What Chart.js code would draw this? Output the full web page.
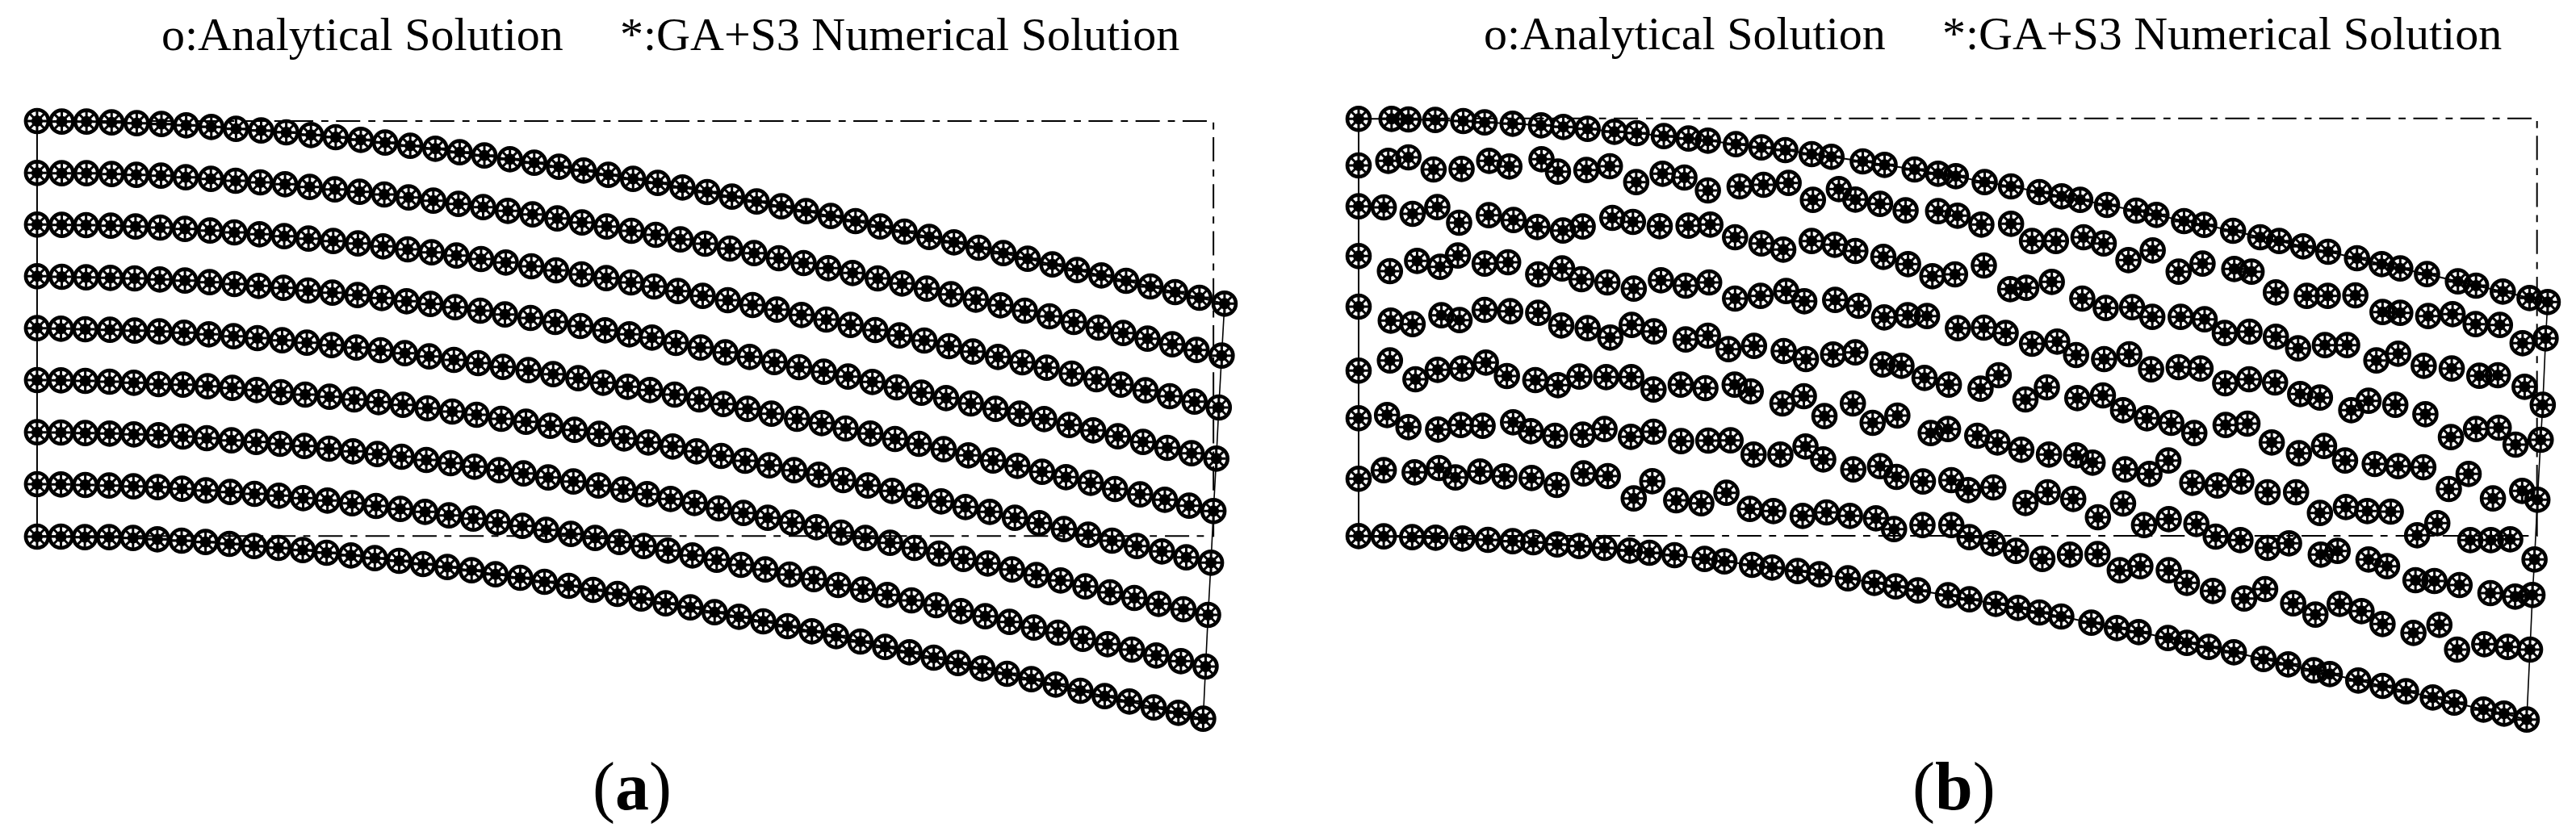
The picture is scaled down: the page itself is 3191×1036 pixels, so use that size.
<!DOCTYPE html>
<html>
<head>
<meta charset="utf-8">
<title>Analytical and GA+S3 numerical solution</title>
<script src="https://cdn.jsdelivr.net/npm/chart.js@4/dist/chart.umd.min.js"></script>
<style>
    html, body { margin: 0; padding: 0; background: #fff; }
    body { position: relative; width: 3191px; height: 1036px; overflow: hidden; }
    canvas { position: absolute; top: 0; }
    #grapikA { left: 0; }
    #grapikB { left: 1596px; }
    .legend, .tag { position: absolute; font-family: "Liberation Serif", serif; color: #000; white-space: pre; }
    .legend { font-size: 58px; line-height: 58px; }
    .tag { font-size: 84px; line-height: 84px; top: 933px; }
</style>
</head>
<body>
<canvas id="grapikA" width="1596" height="1036"></canvas>
<canvas id="grapikB" width="1595" height="1036"></canvas>
<div class="legend" style="left:200px;top:14px">o:Analytical Solution</div>
<div class="legend" style="left:768px;top:14px">*:GA+S3 Numerical Solution</div>
<div class="legend" style="left:1838px;top:13px">o:Analytical Solution</div>
<div class="legend" style="left:2406px;top:13px">*:GA+S3 Numerical Solution</div>
<div class="tag" style="left:734px">(<b>a</b>)</div>
<div class="tag" style="left:2369px">(<b>b</b>)</div>
<script>
// panel (a), nine rows of nodes
var a1X = [0,60,120,181,242,302,362,423,483,544,605,665,725,786,845,906,967,1026,1086,1148,1207,1267,1327,1387,1447,1507,1567,1627,1687,1747,1807,1867,1927,1987,2047,2106,2166,2226,2286,2346,2405,2465,2525,2584,2644,2703,2763,2822,2883];
var a1Y = [0,2,2,5,8,11,16,22,29,35,42,52,60,70,80,92,103,116,128,142,155,170,184,200,215,230,247,264,281,299,317,335,353,372,392,411,431,451,471,491,512,533,554,574,594,615,636,657,679];
var a2X = [0,60,120,181,241,301,361,422,482,542,602,662,723,783,843,902,962,1023,1083,1143,1203,1263,1323,1383,1443,1502,1562,1622,1682,1741,1801,1861,1921,1980,2041,2100,2160,2219,2279,2339,2398,2458,2517,2577,2637,2696,2756,2815,2876];
var a2Y = [193,194,194,197,200,203,209,215,222,228,235,245,254,263,273,284,296,308,320,334,347,362,377,392,408,423,440,456,474,491,510,528,547,565,585,604,623,644,664,685,705,726,747,768,788,809,830,851,872];
var a3X = [0,60,119,179,239,299,359,420,479,540,600,659,719,779,840,900,958,1018,1078,1138,1200,1260,1322,1382,1442,1498,1556,1616,1677,1737,1796,1856,1916,1975,2035,2094,2154,2214,2272,2333,2392,2451,2512,2572,2631,2691,2750,2810,2869];
var a3Y = [385,386,387,389,392,396,401,407,414,421,428,437,446,455,466,477,488,500,513,526,540,555,570,584,600,615,632,650,666,684,701,721,738,758,777,797,816,837,857,877,897,917,939,960,980,1001,1023,1043,1065];
var a4X = [0,60,119,178,237,298,359,419,479,538,598,658,717,778,837,897,955,1015,1076,1136,1198,1258,1319,1379,1438,1493,1551,1611,1671,1730,1790,1850,1910,1969,2028,2087,2147,2207,2267,2327,2386,2445,2506,2564,2624,2685,2744,2803,2863];
var a4Y = [577,579,581,583,585,589,593,599,606,613,620,630,638,647,658,670,680,692,705,719,732,747,762,778,793,805,825,842,860,877,896,915,932,950,970,990,1010,1030,1050,1070,1088,1108,1130,1150,1172,1193,1215,1235,1255];
var a5X = [0,58,117,177,237,297,357,417,477,535,595,655,715,775,834,893,952,1012,1071,1131,1193,1253,1314,1374,1434,1488,1548,1608,1666,1725,1783,1845,1905,1963,2023,2083,2141,2201,2261,2321,2380,2440,2498,2558,2617,2678,2738,2797,2856];
var a5Y = [770,772,774,776,779,782,787,793,800,807,815,824,833,842,852,863,875,888,900,914,926,941,956,973,988,1000,1017,1035,1052,1070,1088,1107,1123,1143,1162,1182,1200,1220,1243,1262,1282,1304,1324,1345,1368,1388,1408,1430,1450];
var a6X = [0,58,117,176,235,295,354,414,474,533,592,651,710,770,829,888,948,1008,1067,1127,1187,1246,1305,1365,1425,1484,1543,1601,1661,1719,1778,1838,1898,1957,2017,2076,2135,2195,2254,2313,2374,2433,2493,2552,2610,2670,2731,2790,2850];
var a6Y = [963,964,966,969,973,978,980,986,992,1000,1008,1017,1025,1035,1045,1055,1068,1080,1092,1107,1118,1133,1148,1163,1180,1195,1210,1228,1245,1263,1280,1298,1315,1335,1355,1375,1394,1414,1435,1453,1475,1495,1517,1538,1560,1580,1600,1622,1642];
var a7X = [0,58,117,176,235,295,354,412,472,532,590,649,709,767,826,885,945,1004,1062,1122,1181,1241,1302,1363,1423,1481,1538,1596,1655,1715,1774,1833,1892,1952,2011,2071,2130,2190,2249,2308,2367,2426,2485,2545,2605,2664,2723,2783,2843];
var a7Y = [1157,1158,1160,1162,1165,1168,1173,1179,1187,1193,1200,1208,1218,1228,1238,1248,1260,1272,1285,1298,1310,1325,1340,1355,1370,1387,1405,1420,1440,1457,1475,1493,1510,1530,1550,1568,1587,1608,1628,1645,1667,1688,1708,1730,1752,1773,1795,1815,1836];
var a8X = [0,58,117,175,234,293,352,410,469,528,587,646,705,765,823,882,942,1000,1059,1118,1178,1236,1296,1355,1414,1473,1532,1591,1650,1709,1768,1827,1886,1945,2005,2064,2123,2183,2243,2302,2361,2420,2479,2539,2599,2658,2717,2777,2837];
var a8Y = [1350,1351,1353,1355,1358,1361,1367,1373,1379,1386,1393,1402,1411,1421,1431,1442,1453,1466,1478,1492,1505,1520,1535,1550,1565,1580,1597,1615,1631,1650,1667,1686,1703,1725,1742,1762,1782,1800,1822,1841,1862,1883,1902,1925,1945,1965,1987,2008,2028];
var a9X = [0,58,116,175,233,292,351,409,467,527,586,645,703,762,820,879,937,996,1055,1113,1173,1232,1291,1350,1409,1467,1526,1586,1645,1704,1763,1822,1881,1940,1999,2059,2118,2177,2236,2295,2355,2414,2473,2533,2592,2652,2711,2771,2831];
var a9Y = [1545,1545,1547,1547,1550,1555,1560,1565,1572,1580,1587,1595,1605,1615,1625,1635,1647,1658,1670,1685,1698,1713,1728,1743,1758,1775,1793,1808,1826,1843,1860,1878,1897,1915,1935,1955,1975,1995,2015,2035,2055,2075,2095,2118,2138,2158,2180,2200,2222];

// panel (b), same nine rows from the GA+S3 run
var b1X = [0,80,121,186,254,306,374,443,497,556,621,675,741,801,848,916,978,1036,1100,1148,1224,1277,1350,1407,1450,1520,1584,1653,1707,1752,1817,1888,1937,2004,2053,2123,2189,2235,2293,2354,2424,2484,2529,2594,2669,2713,2778,2843,2887];
var b1Y = [2,2,4,6,10,15,20,26,32,39,50,55,66,75,83,96,108,118,133,143,160,173,190,206,215,237,253,274,290,303,322,343,359,382,396,418,442,456,476,496,520,542,558,579,606,622,644,668,683];
var b2X = [0,72,121,182,250,317,366,444,484,553,610,674,738,791,848,925,983,1044,1103,1166,1206,1266,1328,1407,1454,1512,1584,1635,1693,1760,1809,1869,1928,1991,2049,2126,2168,2227,2302,2353,2420,2486,2529,2597,2656,2712,2771,2826,2882];
var b2Y = [175,158,145,190,188,158,179,152,198,192,178,237,206,220,268,253,247,240,303,263,302,318,342,345,362,395,392,456,456,442,465,527,491,570,540,560,570,647,660,660,658,720,723,735,728,765,768,836,818];
var b3X = [0,61,131,191,244,316,376,434,496,544,616,666,731,801,854,914,978,1031,1100,1156,1206,1274,1334,1393,1448,1518,1582,1621,1683,1757,1814,1878,1927,1996,2054,2103,2163,2227,2281,2346,2400,2471,2524,2586,2654,2721,2766,2831,2875];
var b3Y = [327,331,355,330,388,360,378,404,417,402,370,385,401,399,395,442,465,488,456,470,493,515,542,587,580,547,635,630,608,670,705,702,738,738,747,798,793,812,855,843,843,900,875,920,930,957,955,998,1065];
var b4X = [0,76,142,198,241,306,363,436,494,541,604,668,734,794,851,914,976,1038,1082,1157,1214,1276,1333,1380,1455,1518,1571,1635,1696,1742,1810,1871,1924,1991,2044,2104,2162,2225,2286,2334,2410,2452,2517,2590,2652,2713,2768,2809,2870];
var b4Y = [512,568,530,552,510,540,535,580,558,598,610,633,602,622,610,670,660,642,680,675,697,740,732,735,780,778,798,838,830,880,895,877,933,925,930,985,970,982,1025,1038,1085,1050,1065,1100,1185,1155,1150,1213,1195];
var b5X = [0,78,131,201,245,306,368,436,492,556,611,663,717,794,848,898,960,1032,1086,1152,1206,1272,1318,1374,1433,1510,1554,1619,1671,1745,1807,1856,1914,1973,2029,2105,2158,2217,2283,2344,2395,2467,2524,2585,2647,2695,2754,2825,2862];
var b5Y = [700,752,765,732,750,712,717,723,770,780,815,768,792,822,808,858,846,865,895,878,870,915,920,965,990,1005,955,1045,1000,1040,1030,1085,1115,1132,1170,1140,1135,1205,1245,1218,1272,1285,1293,1297,1378,1322,1413,1385,1418];
var b6X = [0,76,138,192,251,309,360,429,484,536,601,662,716,782,842,913,952,1029,1081,1131,1200,1248,1308,1389,1431,1502,1551,1609,1676,1742,1782,1861,1920,1966,2024,2085,2143,2207,2276,2334,2397,2449,2506,2570,2619,2699,2749,2796,2855];
var b6Y = [938,900,970,935,930,908,958,973,992,960,962,962,1008,990,1003,990,1015,1060,1033,1107,1060,1132,1105,1170,1155,1180,1205,1232,1250,1253,1280,1305,1322,1272,1355,1365,1350,1390,1390,1467,1445,1460,1462,1550,1505,1568,1568,1565,1640];
var b7X = [0,69,121,193,248,301,375,418,477,544,597,661,716,783,849,903,959,1024,1085,1128,1201,1266,1306,1370,1439,1480,1541,1619,1673,1735,1795,1856,1907,1967,2034,2081,2141,2207,2259,2336,2377,2452,2497,2566,2612,2673,2748,2808,2850];
var b7Y = [1115,1103,1148,1157,1140,1143,1130,1163,1180,1176,1155,1184,1165,1200,1198,1197,1250,1250,1220,1268,1305,1293,1333,1350,1345,1382,1372,1430,1390,1415,1483,1432,1512,1490,1508,1555,1568,1597,1580,1622,1608,1640,1665,1717,1720,1735,1765,1778,1772];
var b8X = [0,61,136,195,235,295,354,420,481,546,605,668,713,771,832,893,950,1007,1078,1136,1193,1256,1300,1369,1439,1483,1540,1596,1660,1727,1794,1848,1898,1967,2011,2074,2150,2201,2269,2323,2382,2435,2486,2561,2624,2667,2733,2790,2844];
var b8Y = [1340,1308,1316,1300,1335,1313,1331,1337,1363,1320,1330,1413,1349,1420,1431,1392,1452,1460,1478,1465,1478,1487,1527,1512,1512,1557,1580,1608,1638,1622,1620,1680,1665,1680,1727,1757,1785,1750,1803,1845,1805,1832,1880,1913,1883,1975,1955,1965,1975];
var b9X = [0,61,130,187,252,314,374,424,482,536,597,658,706,767,840,888,955,1004,1066,1119,1188,1252,1304,1358,1431,1483,1547,1601,1653,1706,1779,1841,1894,1965,2011,2064,2125,2197,2257,2319,2358,2427,2486,2543,2608,2660,2731,2781,2836];
var b9Y = [1553,1554,1557,1559,1562,1567,1572,1576,1584,1590,1597,1607,1615,1624,1638,1647,1660,1670,1683,1695,1710,1727,1740,1755,1773,1788,1805,1820,1837,1852,1875,1895,1910,1932,1950,1965,1985,2010,2030,2052,2066,2090,2110,2130,2153,2172,2198,2213,2235];

// undeformed outline
var frameAX = [0, 2856, 2856, 0];
var frameAY = [0, 0, 1543, 1543];
var frameBX = [0, 2861, 2861, 0];
var frameBY = [0, 0, 1552, 1552];

var rowsA = [[a1X, a1Y], [a2X, a2Y], [a3X, a3Y], [a4X, a4Y], [a5X, a5Y], [a6X, a6Y], [a7X, a7Y], [a8X, a8Y], [a9X, a9Y]];
var rowsB = [[b1X, b1Y], [b2X, b2Y], [b3X, b3Y], [b4X, b4Y], [b5X, b5Y], [b6X, b6Y], [b7X, b7Y], [b8X, b8Y], [b9X, b9Y]];

function toPoints(xs, ys) {
    return xs.map(function (x, i) {
        return { x: x, y: ys[i] };
    });
}

function solidLine(points, width) {
    return { data: points, showLine: true, borderColor: '#000', borderWidth: width, pointRadius: 0, tension: 0 };
}

function drawPanel(id, rows, frameX, frameY, scaleX, scaleY, dashOffset) {
    var all = [];
    rows.forEach(function (r) {
        all = all.concat(toPoints(r[0], r[1]));
    });
    var last = rows[rows.length - 1];
    var leftEdge = rows.map(function (r) { return { x: r[0][0], y: r[1][0] }; });
    var rightEdge = rows.map(function (r) { return { x: r[0][r[0].length - 1], y: r[1][r[1].length - 1] }; });

    var ctx = document.getElementById(id).getContext('2d');
    var chart = new Chart(ctx, {
        type: 'scatter',
        data: {
            datasets: [
                // o: analytical solution
                { label: 'Analytical Solution', data: all, pointStyle: 'circle', pointRadius: 14, pointBorderWidth: 4.6, pointBorderColor: '#000', pointBackgroundColor: 'rgba(0,0,0,0)' },
                // *: numerical solution, the blob is the thick middle of the asterisk
                { label: 'GA+S3 Numerical Solution', data: all, pointStyle: 'star', pointRadius: 12, pointBorderWidth: 3, pointBorderColor: '#000' },
                { label: 'GA+S3 centre', data: all, pointStyle: 'circle', pointRadius: 7, pointBorderWidth: 0, pointBackgroundColor: '#000' },
                solidLine(toPoints(rows[0][0], rows[0][1]), 2),
                solidLine(toPoints(last[0], last[1]), 2),
                solidLine(leftEdge, 2),
                solidLine(rightEdge, 1.6),
                { label: 'frame', data: toPoints(frameX, frameY), showLine: true, borderColor: '#000', borderWidth: 2, pointRadius: 0, tension: 0, borderDash: [30, 10, 8.8, 9.46], borderDashOffset: dashOffset }
            ]
        },
        options: {
            responsive: false,
            animation: false,
            layout: { padding: 0, autoPadding: false },
            plugins: { legend: { display: false }, tooltip: { enabled: false } },
            scales: {
                x: { type: 'linear', display: false, min: scaleX[0], max: scaleX[1] },
                y: { type: 'linear', display: false, reverse: true, min: scaleY[0], max: scaleY[1] }
            }
        }
    });
}

drawPanel('grapikA', rowsA, frameAX, frameAY, [-90, 3038], [-450, 2658], 37.5);
drawPanel('grapikB', rowsB, frameBX, frameBY, [-170.5, 2955.7], [-440, 2668], 33.5);
</script>
</body>
</html>
